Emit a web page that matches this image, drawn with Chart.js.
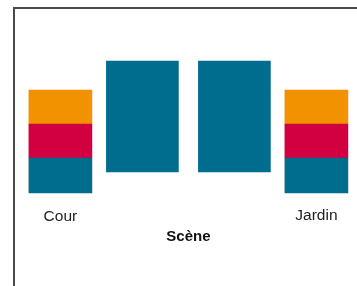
<!DOCTYPE html>
<html>
<head>
<meta charset="utf-8">
<script src="https://cdn.jsdelivr.net/npm/chart.js@4"></script>
<style>
  html, body { margin: 0; padding: 0; background: #fff; overflow: hidden; }
  #frame { position: absolute; left: 13px; top: 7px; width: 400px; height: 400px;
           border-left: 2px solid #4a4a4a; border-top: 2px solid #4a4a4a; }
  #c { position: absolute; left: 0; top: 0; width: 357px; height: 286px; }
</style>
</head>
<body>
<div id="frame"></div>
<canvas id="c" width="357" height="286"></canvas>
<script>
// Stage plan (units: metres, x = 0 at stage centre, y = 0 at base of side stacks)
const sideNames = ['Cour', 'Jardin'];
const sideX = [-6.4, 6.4];
const centerX = [-2.3, 2.3];
const tealRange = [0, 1.75];
const redRange = [1.75, 3.45];
const orangeRange = [3.45, 5.15];
const centerRange = [1.05, 6.6];
const stageLabel = 'Scène';

const TEAL = '#006c8e', RED = '#d20040', ORANGE = '#f39200';

const labelPlugin = {
  id: 'labels',
  afterDraw(chart) {
    const { ctx, scales: { x, y } } = chart;
    ctx.save();
    ctx.textAlign = 'center';
    ctx.textBaseline = 'alphabetic';
    ctx.fillStyle = '#222';
    ctx.font = '15.5px "Liberation Sans", Arial, sans-serif';
    ctx.fillText(sideNames[0], x.getPixelForValue(sideX[0]), y.getPixelForValue(-1.4));
    ctx.fillText(sideNames[1], x.getPixelForValue(sideX[1]), y.getPixelForValue(-1.35));
    ctx.fillStyle = '#111';
    ctx.font = 'bold 15px "Liberation Sans", Arial, sans-serif';
    ctx.fillText(stageLabel, x.getPixelForValue(0), y.getPixelForValue(-2.38));
    ctx.restore();
  }
};

const sidePts = r => sideX.map(v => ({ x: v, y: r }));

new Chart(document.getElementById('c'), {
  type: 'bar',
  data: {
    datasets: [
      { data: sidePts(tealRange), backgroundColor: TEAL, barThickness: 63 },
      { data: sidePts(redRange), backgroundColor: RED, barThickness: 63 },
      { data: sidePts(orangeRange), backgroundColor: ORANGE, barThickness: 63 },
      { data: centerX.map(v => ({ x: v, y: centerRange })), backgroundColor: TEAL, barThickness: 72 }
    ]
  },
  options: {
    responsive: false,
    animation: false,
    devicePixelRatio: 1,
    layout: { padding: 0 },
    datasets: { bar: { grouped: false, borderWidth: 0 } },
    plugins: { legend: { display: false }, tooltip: { enabled: false } },
    scales: {
      x: { type: 'linear', display: false, offset: false, min: -9.42, max: 8.43 },
      y: { display: false, min: -4.65, max: 9.65 }
    }
  },
  plugins: [labelPlugin]
});
</script>
</body>
</html>
